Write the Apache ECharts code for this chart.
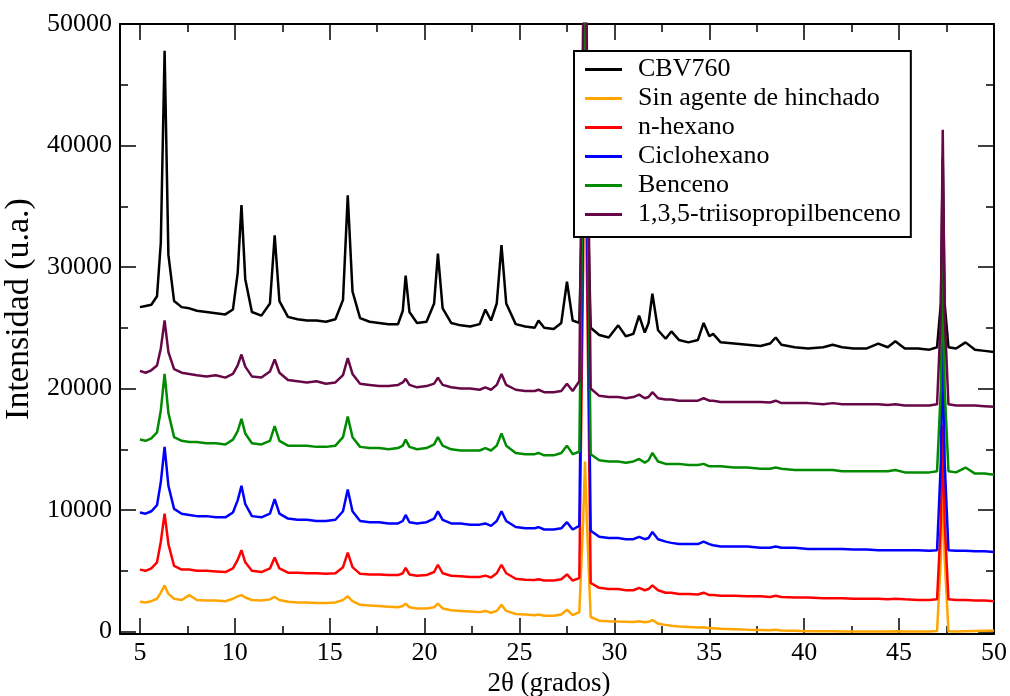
<!DOCTYPE html>
<html>
<head>
<meta charset="utf-8">
<script src="https://cdn.jsdelivr.net/npm/echarts@6/dist/echarts.min.js"></script>
<style>
html,body{margin:0;padding:0;background:#fff;}
#chart{width:1010px;height:696px;}
</style>
</head>
<body>
<div id="chart"></div>
<script>
// 2θ positions (degrees) shared by all patterns
const twoTheta = [
  5, 5.3, 5.6, 5.9, 6.1, 6.3, 6.5, 6.8, 7.2, 7.6,
  8.0, 8.5, 9.0, 9.5, 9.9, 10.15, 10.35, 10.55, 10.9, 11.4,
  11.85, 12.1, 12.35, 12.8, 13.3, 13.8, 14.3, 14.8, 15.3, 15.7,
  15.95, 16.2, 16.6, 17.1, 17.6, 18.1, 18.6, 18.85, 19.0, 19.2,
  19.6, 20.1, 20.5, 20.7, 20.95, 21.4, 21.9, 22.4, 22.9, 23.2,
  23.5, 23.8, 24.05, 24.3, 24.8, 25.3, 25.8, 26.0, 26.3, 26.8,
  27.2, 27.5, 27.8, 28.15, 28.35, 28.45, 28.55, 28.75, 29.2, 29.7,
  30.2, 30.6, 31.0, 31.3, 31.6, 31.8, 32.0, 32.3, 32.7, 33.0,
  33.4, 33.9, 34.4, 34.7, 35.0, 35.2, 35.6, 36.3, 37.0, 37.7,
  38.2, 38.5, 38.8, 39.5, 40.2, 41.0, 41.5, 42.0, 42.6, 43.3,
  43.9, 44.4, 44.8, 45.3, 46.0, 46.6, 47.0, 47.2, 47.3, 47.4,
  47.6, 48.0, 48.5, 49.0, 49.5, 50.0
];

const cbv760 = [
  26700, 26800, 26900, 27600, 32000, 47800, 31000, 27200, 26700, 26600,
  26400, 26300, 26200, 26100, 26500, 29500, 35100, 29000, 26300, 26000,
  27000, 32600, 27200, 25900, 25700, 25600, 25600, 25500, 25700, 27300,
  35900, 28000, 25800, 25500, 25400, 25300, 25300, 26400, 29300, 26300,
  25400, 25500, 27000, 31100, 26600, 25400, 25200, 25100, 25300, 26500,
  25600, 27000, 31800, 27000, 25300, 25100, 25000, 25600, 25000, 24900,
  25400, 28800, 25600, 25400, 38000, 62000, 38000, 25000, 24400, 24200,
  25200, 24300, 24500, 26000, 24600, 25400, 27800, 24800, 24100, 24700,
  24000, 23800, 24000, 25400, 24300, 24500, 23800, 23700, 23600, 23500,
  23700, 24200, 23600, 23400, 23300, 23400, 23600, 23400, 23300, 23300,
  23700, 23400, 23900, 23300, 23300, 23200, 23400, 27000, 39000, 27000,
  23400, 23300, 23800, 23200, 23100, 23000
];

const sinAgente = [
  2450, 2400, 2500, 2700, 3200, 3800, 3100, 2700, 2600, 3000,
  2600, 2550, 2550, 2500, 2700, 2900, 3000, 2800, 2600, 2550,
  2650, 2850, 2600, 2450, 2400, 2400, 2350, 2350, 2400, 2600,
  2900, 2500, 2200, 2150, 2100, 2050, 2000, 2100, 2300, 2000,
  1900, 1900, 2000, 2300, 1900, 1750, 1700, 1650, 1600, 1700,
  1550, 1700, 2200, 1700, 1450, 1400, 1350, 1400, 1300, 1300,
  1400, 1800, 1350, 1600, 9000, 14000, 9000, 1200, 900, 850,
  820, 800, 780, 850, 760, 800, 950, 650, 550, 480,
  420, 380, 330, 360, 280, 270, 240, 200, 160, 130,
  100, 150, 90, 60, 30, 20, 20, 10, 0, 0,
  0, 0, 20, 0, 0, 0, 50, 6000, 12000, 6000,
  20, 0, 20, 40, 60, 80
];

const nHexano = [
  5100, 5000, 5200, 5700, 7400, 9700, 7200, 5400, 5100, 5100,
  5000, 5000, 4950, 4900, 5200, 5900, 6700, 5700, 5000, 4900,
  5200, 6100, 5200, 4850, 4850, 4800, 4800, 4750, 4800, 5300,
  6500, 5300, 4750, 4700, 4700, 4650, 4650, 4800, 5250, 4700,
  4600, 4650, 4900, 5500, 4800, 4600, 4550, 4500, 4500, 4600,
  4450, 4800, 5500, 4800, 4350, 4270, 4250, 4300, 4200, 4200,
  4300, 4700, 4200, 4400, 30000, 50000, 30000, 4000, 3600, 3500,
  3500, 3400, 3400, 3600, 3400, 3500, 3800, 3400, 3200, 3200,
  3100, 3100, 3050, 3200, 3000, 3000, 2950, 2950, 2900, 2900,
  2850, 2950, 2850, 2800, 2800, 2750, 2750, 2750, 2700, 2700,
  2700, 2650, 2700, 2650, 2600, 2600, 2650, 9000, 17000, 9000,
  2650, 2600, 2600, 2550, 2550, 2500
];

const ciclohexano = [
  9800, 9700, 9900, 10400, 12300, 15200, 12000, 10100, 9700, 9600,
  9500, 9500, 9400, 9400, 9800, 10800, 12000, 10500, 9500, 9400,
  9700, 10900, 9700, 9300, 9200, 9200, 9100, 9100, 9200, 9900,
  11700, 9900, 9100, 9000, 9000, 8900, 8900, 9100, 9600, 9000,
  8900, 9000, 9300, 9900, 9200, 8900, 8900, 8800, 8800, 8900,
  8700, 9100, 9900, 9100, 8600, 8500, 8500, 8600, 8400, 8400,
  8500, 9000, 8400, 8700, 35000, 55000, 35000, 8300, 7800, 7700,
  7700, 7600, 7600, 7800, 7600, 7700, 8200, 7600, 7400, 7300,
  7200, 7200, 7200, 7400, 7200, 7100, 7000, 7000, 7000, 6900,
  6900, 7000, 6900, 6900, 6800, 6800, 6800, 6800, 6750, 6750,
  6700, 6700, 6700, 6700, 6700, 6650, 6700, 14000, 25000, 14000,
  6700, 6650, 6650, 6600, 6600, 6550
];

const benceno = [
  15800, 15700, 15900, 16400, 18200, 21200, 18000, 16000, 15700, 15600,
  15600, 15500, 15500, 15400, 15800, 16500, 17500, 16300, 15500, 15400,
  15700, 16900, 15700, 15300, 15300, 15300, 15200, 15200, 15300, 16000,
  17700, 16000, 15200, 15100, 15100, 15000, 15100, 15300, 15800, 15200,
  15000, 15100, 15400, 16000, 15300, 15000, 14900, 14900, 14900, 15100,
  14900, 15300, 16300, 15300, 14700, 14600, 14600, 14700, 14500, 14500,
  14700, 15300, 14600, 14800, 40000, 60000, 40000, 14600, 14100, 14000,
  14000, 13900, 14000, 14200, 13900, 14100, 14700, 14000, 13800, 13800,
  13800, 13700, 13700, 13800, 13600, 13600, 13600, 13500, 13500, 13400,
  13400, 13500, 13400, 13300, 13300, 13300, 13300, 13200, 13200, 13200,
  13200, 13200, 13300, 13100, 13100, 13100, 13200, 20000, 32000, 20000,
  13200, 13100, 13500, 13000, 13000, 12900
];

const triisopropilbenceno = [
  21450, 21300, 21500, 21900, 23300, 25600, 23000, 21600, 21300, 21200,
  21100, 21000, 21100, 20900, 21200, 21900, 22800, 21800, 21000, 20900,
  21400, 22400, 21300, 20700, 20600, 20500, 20600, 20400, 20500, 21100,
  22500, 21200, 20400, 20300, 20200, 20200, 20300, 20500, 20800, 20300,
  20100, 20200, 20400, 20900, 20300, 20100, 20000, 20000, 19900, 20100,
  19900, 20300, 21200, 20300, 19900, 19800, 19800, 19900, 19700, 19700,
  19800, 20400, 19800, 20600, 50000, 65000, 48000, 20000, 19400, 19300,
  19300, 19200, 19300, 19500, 19200, 19300, 19700, 19200, 19100, 19100,
  19000, 19000, 19000, 19200, 19000, 19000, 18900, 18900, 18900, 18900,
  18850, 19000, 18800, 18800, 18800, 18700, 18800, 18700, 18700, 18700,
  18700, 18650, 18700, 18600, 18600, 18600, 18700, 26000, 41300, 26000,
  18700, 18600, 18600, 18600, 18550, 18500
];

const seriesNames = ['CBV760', 'Sin agente de hinchado', 'n-hexano', 'Ciclohexano', 'Benceno', '1,3,5-triisopropilbenceno'];
const seriesColors = ['#000000', '#ffa500', '#ff0000', '#0000ff', '#008b00', '#670748'];
const seriesValues = [cbv760, sinAgente, nHexano, ciclohexano, benceno, triisopropilbenceno];

const xMajorTicks = [5, 10, 15, 20, 25, 30, 35, 40, 45, 50];
const xMinorTicks = [7.5, 12.5, 17.5, 22.5, 27.5, 32.5, 37.5, 42.5, 47.5];
const yMajorTicks = [0, 10000, 20000, 30000, 40000, 50000];
const yMinorTicks = [5000, 15000, 25000, 35000, 45000];

const FONT = 'Liberation Serif';
const X_MIN = 3.95, X_MAX = 50, Y_MIN = -200, Y_MAX = 50000;

function xAx(pos, ticks, len, labels, line) {
  return {
    type: 'value', position: pos, min: X_MIN, max: X_MAX,
    axisLine: { show: line, onZero: false, lineStyle: { color: '#000', width: 2 } },
    axisTick: { show: true, inside: true, length: len, customValues: ticks, lineStyle: { color: '#000', width: 1.5 } },
    axisLabel: labels ? { show: true, customValues: ticks, color: '#000', fontFamily: FONT, fontSize: 26, margin: 6, formatter: v => String(v) } : { show: false },
    splitLine: { show: false }
  };
}
function yAx(pos, ticks, len, labels, line) {
  return {
    type: 'value', position: pos, min: Y_MIN, max: Y_MAX,
    axisLine: { show: line, onZero: false, lineStyle: { color: '#000', width: 2 } },
    axisTick: { show: true, inside: true, length: len, customValues: ticks, lineStyle: { color: '#000', width: 1.5 } },
    axisLabel: labels ? { show: true, customValues: ticks, color: '#000', fontFamily: FONT, fontSize: 26, margin: 8, formatter: v => String(v) } : { show: false },
    splitLine: { show: false }
  };
}

const xAxes = [
  xAx('bottom', xMajorTicks, 16, true, true),
  xAx('bottom', xMinorTicks, 8, false, false),
  xAx('top', xMajorTicks, 16, false, true),
  xAx('top', xMinorTicks, 8, false, false)
];
xAxes[0].name = '2θ (grados)';
xAxes[0].nameLocation = 'middle';
xAxes[0].nameGap = 36;
xAxes[0].nameTextStyle = { color: '#000', fontFamily: FONT, fontSize: 27, padding: [0, 16, 0, 0] };

const yAxes = [
  yAx('left', yMajorTicks, 16, true, true),
  yAx('left', yMinorTicks, 8, false, false),
  yAx('right', yMajorTicks, 16, false, true),
  yAx('right', yMinorTicks, 8, false, false)
];
yAxes[0].name = 'Intensidad (u.a.)';
yAxes[0].nameLocation = 'middle';
yAxes[0].nameGap = 81;
yAxes[0].nameTextStyle = { color: '#000', fontFamily: FONT, fontSize: 34, padding: [0, 0, 0, 40] };

const series = seriesNames.map((name, i) => ({
  name: name,
  type: 'line',
  xAxisIndex: 0,
  yAxisIndex: 0,
  data: twoTheta.map((x, k) => [x, seriesValues[i][k]]),
  showSymbol: false,
  symbol: 'none',
  clip: true,
  color: seriesColors[i],
  lineStyle: { color: seriesColors[i], width: 2.5 },
  emphasis: { disabled: true },
  z: 2,
  zlevel: 0
}));

const chart = echarts.init(document.getElementById('chart'), null, { renderer: 'canvas' });
chart.setOption({
  animation: false,
  backgroundColor: '#fff',
  grid: { left: 120, right: 16, top: 24, bottom: 62, containLabel: false, outerBoundsMode: 'none' },
  xAxis: xAxes,
  yAxis: yAxes,
  legend: {
    z: 20,
    orient: 'vertical',
    left: 574,
    top: 51,
    data: seriesNames,
    icon: 'rect',
    itemWidth: 37,
    itemHeight: 3,
    itemGap: 0,
    padding: [4, 10, 8, 11],
    backgroundColor: '#fff',
    borderColor: '#000',
    borderWidth: 2,
    borderRadius: 0,
    selectedMode: false,
    textStyle: { color: '#000', fontFamily: FONT, fontSize: 26, lineHeight: 29, padding: [0, 0, 0, 11] }
  },
  series: series
});
</script>
</body>
</html>
